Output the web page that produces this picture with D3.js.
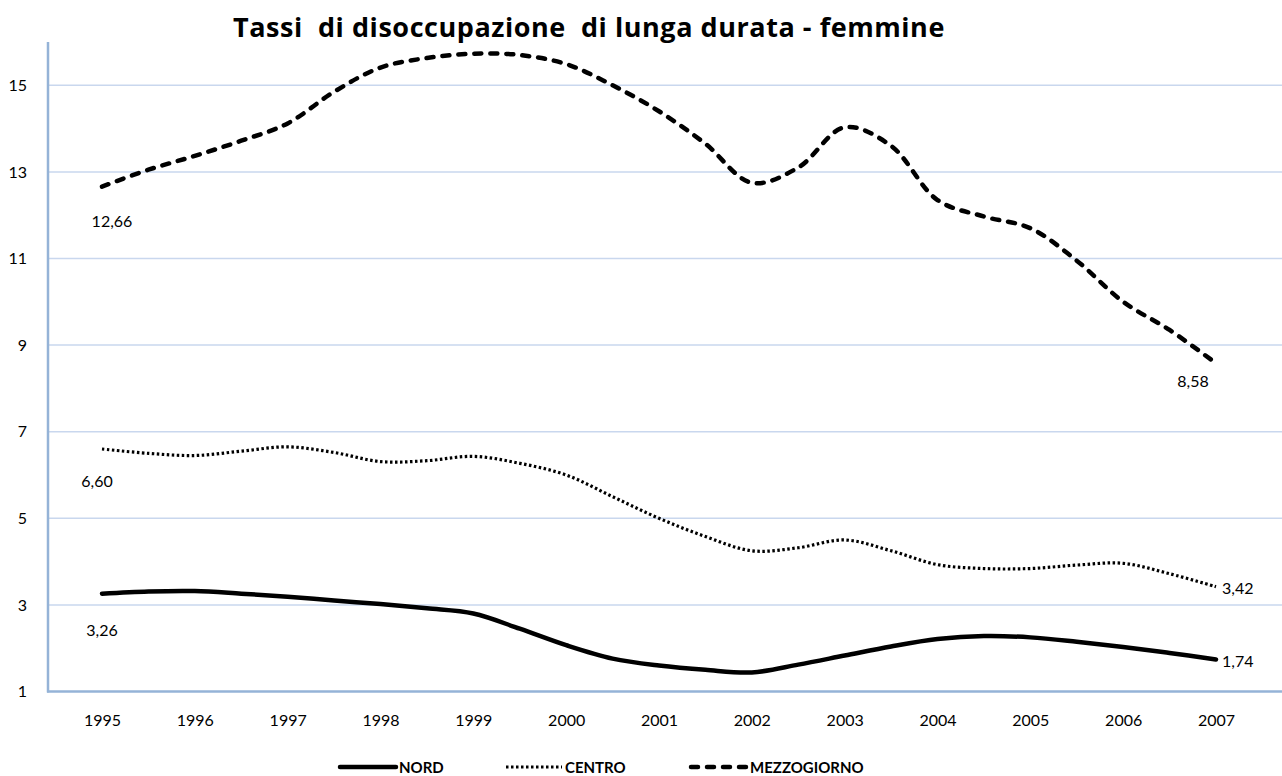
<!DOCTYPE html>
<html>
<head>
<meta charset="utf-8">
<script src="https://cdn.jsdelivr.net/npm/d3@7"></script>
<style>
  body { margin: 0; background: #fff; }
  svg { display: block; font-family: Lato, "Open Sans", sans-serif; }
  .tick text { fill: #000; }
</style>
</head>
<body>
<svg width="1282" height="776"></svg>
<script>
// half-year points, 1995 - 2007
var periods = [1995, 1995.5, 1996, 1996.5, 1997, 1997.5, 1998, 1998.5, 1999, 1999.5,
               2000, 2000.5, 2001, 2001.5, 2002, 2002.5, 2003, 2003.5, 2004, 2004.5,
               2005, 2005.5, 2006, 2006.5, 2007];

var nord = [3.26, 3.31, 3.32, 3.26, 3.19, 3.10, 3.02, 2.92, 2.80, 2.45,
            2.07, 1.76, 1.60, 1.50, 1.44, 1.62, 1.83, 2.04, 2.21, 2.28,
            2.25, 2.15, 2.03, 1.89, 1.74];

var centro = [6.60, 6.50, 6.45, 6.55, 6.65, 6.52, 6.31, 6.33, 6.43, 6.27,
              6.00, 5.50, 5.00, 4.58, 4.25, 4.32, 4.50, 4.25, 3.93, 3.84,
              3.84, 3.92, 3.96, 3.72, 3.42];

var mezzogiorno = [12.66, 13.05, 13.37, 13.72, 14.12, 14.85, 15.41, 15.63, 15.73, 15.70,
                   15.49, 15.00, 14.40, 13.65, 12.75, 13.10, 14.03, 13.60, 12.35, 11.97,
                   11.70, 10.95, 10.00, 9.35, 8.58];

var yearTicks = [1995, 1996, 1997, 1998, 1999, 2000, 2001, 2002, 2003, 2004, 2005, 2006, 2007];
var valueTicks = [1, 3, 5, 7, 9, 11, 13, 15];

var seriesNames = ["NORD", "CENTRO", "MEZZOGIORNO"];
var titleText = "Tassi  di disoccupazione  di lunga durata - femmine";

var svg = d3.select("svg");

var it = d3.formatLocale({decimal: ",", thousands: ".", grouping: [3], currency: ["", " €"]});
var fmt = it.format(".2f");

var x = d3.scaleLinear().domain([1995, 2007]).range([102, 1216]);
var y = d3.scaleLinear().domain([1, 16]).range([691.5, 42]);

var axisLeftX = 48;

// gridlines
svg.append("g")
    .selectAll("line")
    .data(valueTicks.slice(1))
    .enter().append("line")
    .attr("x1", axisLeftX)
    .attr("x2", 1282)
    .attr("y1", function(d) { return y(d); })
    .attr("y2", function(d) { return y(d); })
    .attr("stroke", "#c9d7ee")
    .attr("stroke-width", 1.5);

// axes lines
svg.append("line")
    .attr("x1", axisLeftX).attr("x2", axisLeftX)
    .attr("y1", y(16)).attr("y2", y(1) + 1)
    .attr("stroke", "#95b3d7").attr("stroke-width", 2.5);
svg.append("line")
    .attr("x1", axisLeftX - 1).attr("x2", 1282)
    .attr("y1", y(1)).attr("y2", y(1))
    .attr("stroke", "#95b3d7").attr("stroke-width", 2.5);

var yAxis = d3.axisLeft(y).tickValues(valueTicks).tickSize(0).tickPadding(0);
var gy = svg.append("g")
    .attr("transform", "translate(27,0)")
    .call(yAxis);
gy.select(".domain").remove();
gy.selectAll("text").attr("font-size", 16).attr("font-family", "Lato, sans-serif");

var xAxis = d3.axisBottom(x).tickValues(yearTicks).tickFormat(d3.format("d")).tickSize(0).tickPadding(0);
var gx = svg.append("g")
    .attr("transform", "translate(0,715)")
    .call(xAxis);
gx.select(".domain").remove();
gx.selectAll("text").attr("font-size", 16).attr("font-family", "Lato, sans-serif");

// lines
var styles = [
    {width: 4.5, dash: null, cap: "round"},
    {width: 3.2, dash: "2.5 2.5", cap: "butt"},
    {width: 4.5, dash: "7 9", cap: "round"}
];
var allSeries = [nord, centro, mezzogiorno];

var line = d3.line()
    .x(function(d, i) { return x(periods[i]); })
    .y(function(d) { return y(d); })
    .curve(d3.curveCatmullRom.alpha(0.5));

allSeries.forEach(function(values, k) {
    svg.append("path")
        .datum(values)
        .attr("d", line)
        .attr("fill", "none")
        .attr("stroke", "#000")
        .attr("stroke-width", styles[k].width)
        .attr("stroke-linecap", styles[k].cap)
        .attr("stroke-linejoin", "round")
        .attr("stroke-dasharray", styles[k].dash);
});

// data labels at first and last point
var startOffsets = [[0, 36], [-5, 31], [10, 34]];
var endOffsets = [[6, 1], [6, 1], [-23, 17]];
var endAnchor = ["start", "start", "middle"];

allSeries.forEach(function(values, k) {
    var first = values[0], last = values[values.length - 1];
    svg.append("text")
        .attr("x", x(periods[0]) + startOffsets[k][0])
        .attr("y", y(first) + startOffsets[k][1])
        .attr("text-anchor", "middle")
        .attr("dominant-baseline", "central")
        .attr("font-size", 16)
        .text(fmt(first));
    svg.append("text")
        .attr("x", x(periods[periods.length - 1]) + endOffsets[k][0])
        .attr("y", y(last) + endOffsets[k][1])
        .attr("text-anchor", endAnchor[k])
        .attr("dominant-baseline", "central")
        .attr("font-size", 16)
        .text(fmt(last));
});

// title, stretched to the width of the original
var title = svg.append("text")
    .attr("x", 589)
    .attr("y", 37)
    .attr("text-anchor", "middle")
    .attr("font-family", "'Open Sans', sans-serif")
    .attr("font-size", 27)
    .attr("font-weight", "bold")
    .style("white-space", "pre")
    .text(titleText);
var tw = title.node().getComputedTextLength();
title.attr("letter-spacing", Math.max(0, (712 - tw) / titleText.length).toFixed(2));

// legend
var legendX = [340, 506, 691];
var legend = svg.append("g").attr("transform", "translate(0,767)");
seriesNames.forEach(function(name, k) {
    legend.append("line")
        .attr("x1", legendX[k]).attr("x2", legendX[k] + 56)
        .attr("y1", 0).attr("y2", 0)
        .attr("stroke", "#000")
        .attr("stroke-width", styles[k].width)
        .attr("stroke-linecap", styles[k].cap)
        .attr("stroke-dasharray", styles[k].dash);
    legend.append("text")
        .attr("x", legendX[k] + 59)
        .attr("y", 0)
        .attr("dominant-baseline", "central")
        .attr("font-size", 15)
        .attr("font-weight", "bold")
        .text(name);
});
</script>
</body>
</html>
